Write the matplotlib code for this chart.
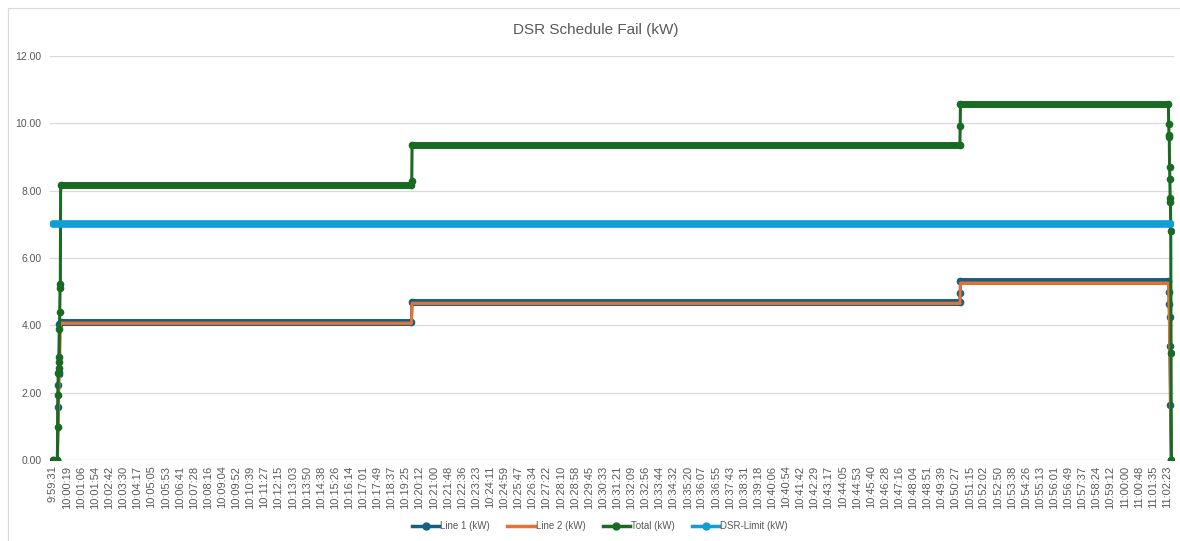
import matplotlib
matplotlib.use('Agg')
import matplotlib.pyplot as plt
from matplotlib.lines import Line2D

# ---------------------------------- data ----------------------------------#
base_time = '9:59:31'

tick_labels = [
    '9:59:31', '10:00:19', '10:01:06', '10:01:54', '10:02:42', '10:03:30', '10:04:17', '10:05:05',
    '10:05:53', '10:06:41', '10:07:28', '10:08:16', '10:09:04', '10:09:52', '10:10:39', '10:11:27',
    '10:12:15', '10:13:03', '10:13:50', '10:14:38', '10:15:26', '10:16:14', '10:17:01', '10:17:49',
    '10:18:37', '10:19:25', '10:20:12', '10:21:00', '10:21:48', '10:22:36', '10:23:23', '10:24:11',
    '10:24:59', '10:25:47', '10:26:34', '10:27:22', '10:28:10', '10:28:58', '10:29:45', '10:30:33',
    '10:31:21', '10:32:09', '10:32:56', '10:33:44', '10:34:32', '10:35:20', '10:36:07', '10:36:55',
    '10:37:43', '10:38:31', '10:39:18', '10:40:06', '10:40:54', '10:41:42', '10:42:29', '10:43:17',
    '10:44:05', '10:44:53', '10:45:40', '10:46:28', '10:47:16', '10:48:04', '10:48:51', '10:49:39',
    '10:50:27', '10:51:15', '10:52:02', '10:52:50', '10:53:38', '10:54:26', '10:55:13', '10:56:01',
    '10:56:49', '10:57:37', '10:58:24', '10:59:12', '11:00:00', '11:00:48', '11:01:35', '11:02:23',
]
y_ticks = [0, 2, 4, 6, 8, 10, 12]

# flat plateaus (start, end, value)
level_starts = ['9:59:57', '10:19:47', '10:50:44']
level_ends = ['10:19:45', '10:50:42', '11:02:28']
line1_levels = [4.11, 4.70, 5.31]
line2_levels = [4.07, 4.66, 5.26]
total_levels = [8.17, 9.36, 10.56]
dsr_limit = 7.0

# sampled points incl. ramps (time, value)
line1_times = ['9:59:31', '9:59:46', '9:59:48', '9:59:49', '9:59:50', '9:59:51', '9:59:53', '9:59:57',
               '10:19:45', '10:19:47', '10:50:42', '10:50:43', '10:50:44',
               '11:02:28', '11:02:30', '11:02:31', '11:02:32', '11:02:33', '11:02:35', '11:02:38']
line1_vals = [0, 0, 1.58, 2.22, 2.55, 2.62, 4.05, 4.11,
              4.11, 4.70, 4.70, 4.96, 5.31,
              5.31, 4.99, 4.63, 4.24, 3.39, 1.63, 0]

line2_times = ['9:59:31', '9:59:46', '9:59:49', '9:59:51', '9:59:53', '9:59:57',
               '10:19:45', '10:19:47', '10:50:42', '10:50:44',
               '11:02:28', '11:02:33', '11:02:38']
line2_vals = [0, 0, 1.0, 2.0, 2.6, 4.07,
              4.07, 4.66, 4.66, 5.26,
              5.26, 3.3, 0]

total_times = ['9:59:31', '9:59:46', '9:59:47', '9:59:48', '9:59:49', '9:59:50', '9:59:51', '9:59:52',
               '9:59:53', '9:59:54', '9:59:55', '9:59:56', '9:59:57',
               '10:19:44', '10:19:46', '10:19:47', '10:50:42', '10:50:43', '10:50:44',
               '11:02:28', '11:02:29', '11:02:30', '11:02:31', '11:02:32', '11:02:33', '11:02:34',
               '11:02:35', '11:02:36', '11:02:37', '11:02:38']
total_vals = [0, 0, 0.99, 1.93, 2.58, 2.73, 2.92, 3.07,
              3.89, 4.40, 5.10, 5.22, 8.17,
              8.17, 8.30, 9.36, 9.36, 9.92, 10.56,
              10.56, 9.99, 9.64, 9.60, 8.69, 8.34, 7.77,
              7.66, 6.79, 3.18, 0]

dsr_times = ['9:59:31', '11:02:38']


def to_sec(s):
    h, m, sec = [int(p) for p in s.split(':')]
    b = [int(p) for p in base_time.split(':')]
    return (h - b[0]) * 3600 + (m - b[1]) * 60 + (sec - b[2])


# ---------------------------------- style ----------------------------------#
plt.rcParams['font.family'] = ['Liberation Sans', 'DejaVu Sans']
grey = '#595959'
c_line1 = '#156082'
c_line2 = '#E97132'
c_total = '#196B24'
c_dsr = '#0F9ED5'

fig = plt.figure(figsize=(11.8, 5.41), dpi=100)
# chart frame (top and left edges only visible in the crop)
fig.add_artist(Line2D([8 / 1180, 1.0], [1 - 8 / 541, 1 - 8 / 541], color='#D9D9D9', lw=0.8))
fig.add_artist(Line2D([8 / 1180, 8 / 1180], [0, 1 - 8 / 541], color='#D9D9D9', lw=0.8))
ax = fig.add_axes([50 / 1180, 1 - 460 / 541, 1124 / 1180, 404 / 541])

series = [
    (line1_times, line1_vals, line1_levels, c_line1, 'o', 2.2, 1),
    (line2_times, line2_vals, line2_levels, c_line2, None, 2.0, 2),
    (total_times, total_vals, total_levels, c_total, 'o', 2.2, 3),
]
band_w = {c_line1: 5.0, c_line2: 2.0, c_total: 5.0}

for times, vals, levels, col, mk, lw, z in series:
    x = [to_sec(t) for t in times]
    ax.plot(x, vals, color=col, lw=lw, marker=mk, ms=4.5, zorder=z)
    for s, e, v in zip(level_starts, level_ends, levels):
        ax.plot([to_sec(s), to_sec(e)], [v, v], color=col, lw=band_w[col],
                solid_capstyle='round', zorder=z)

ax.plot([to_sec(t) for t in dsr_times], [dsr_limit, dsr_limit], color=c_dsr, lw=5.5,
        solid_capstyle='round', zorder=4)

# ---------------------------------- axes ----------------------------------#
ax.set_ylim(0, 12)
ax.set_xlim(-10, 3796)
ax.set_yticks(y_ticks)
ax.set_yticklabels([f'{v:.2f}' for v in y_ticks])
ax.set_xticks([to_sec(t) for t in tick_labels])
ax.set_xticklabels(tick_labels, rotation=90)
ax.tick_params(axis='both', length=0, colors=grey)
ax.tick_params(axis='x', labelsize=8, pad=4)
ax.tick_params(axis='y', labelsize=7.5, pad=6)
ax.grid(axis='y', color='#D9D9D9', lw=0.9)
ax.set_axisbelow(True)
for sp in ax.spines.values():
    sp.set_visible(False)

fig.text(596 / 1180, 1 - 30 / 541, 'DSR Schedule Fail (kW)', ha='center', va='center',
         fontsize=11, color=grey)

handles = [
    Line2D([], [], color=c_line1, lw=2.5, marker='o', ms=5),
    Line2D([], [], color=c_line2, lw=2.5),
    Line2D([], [], color=c_total, lw=2.5, marker='o', ms=5),
    Line2D([], [], color=c_dsr, lw=2.5, marker='o', ms=5),
]
labels = ['Line 1 (kW)', 'Line 2 (kW)', 'Total (kW)', 'DSR-Limit (kW)']
fig.legend(handles, labels, loc='center', bbox_to_anchor=(600 / 1180, 1 - 526 / 541), ncol=4,
           frameon=False, fontsize=7, labelcolor=grey, handlelength=2.8, handletextpad=0.1,
           columnspacing=1.8)

fig.savefig('out.png', dpi=100)
